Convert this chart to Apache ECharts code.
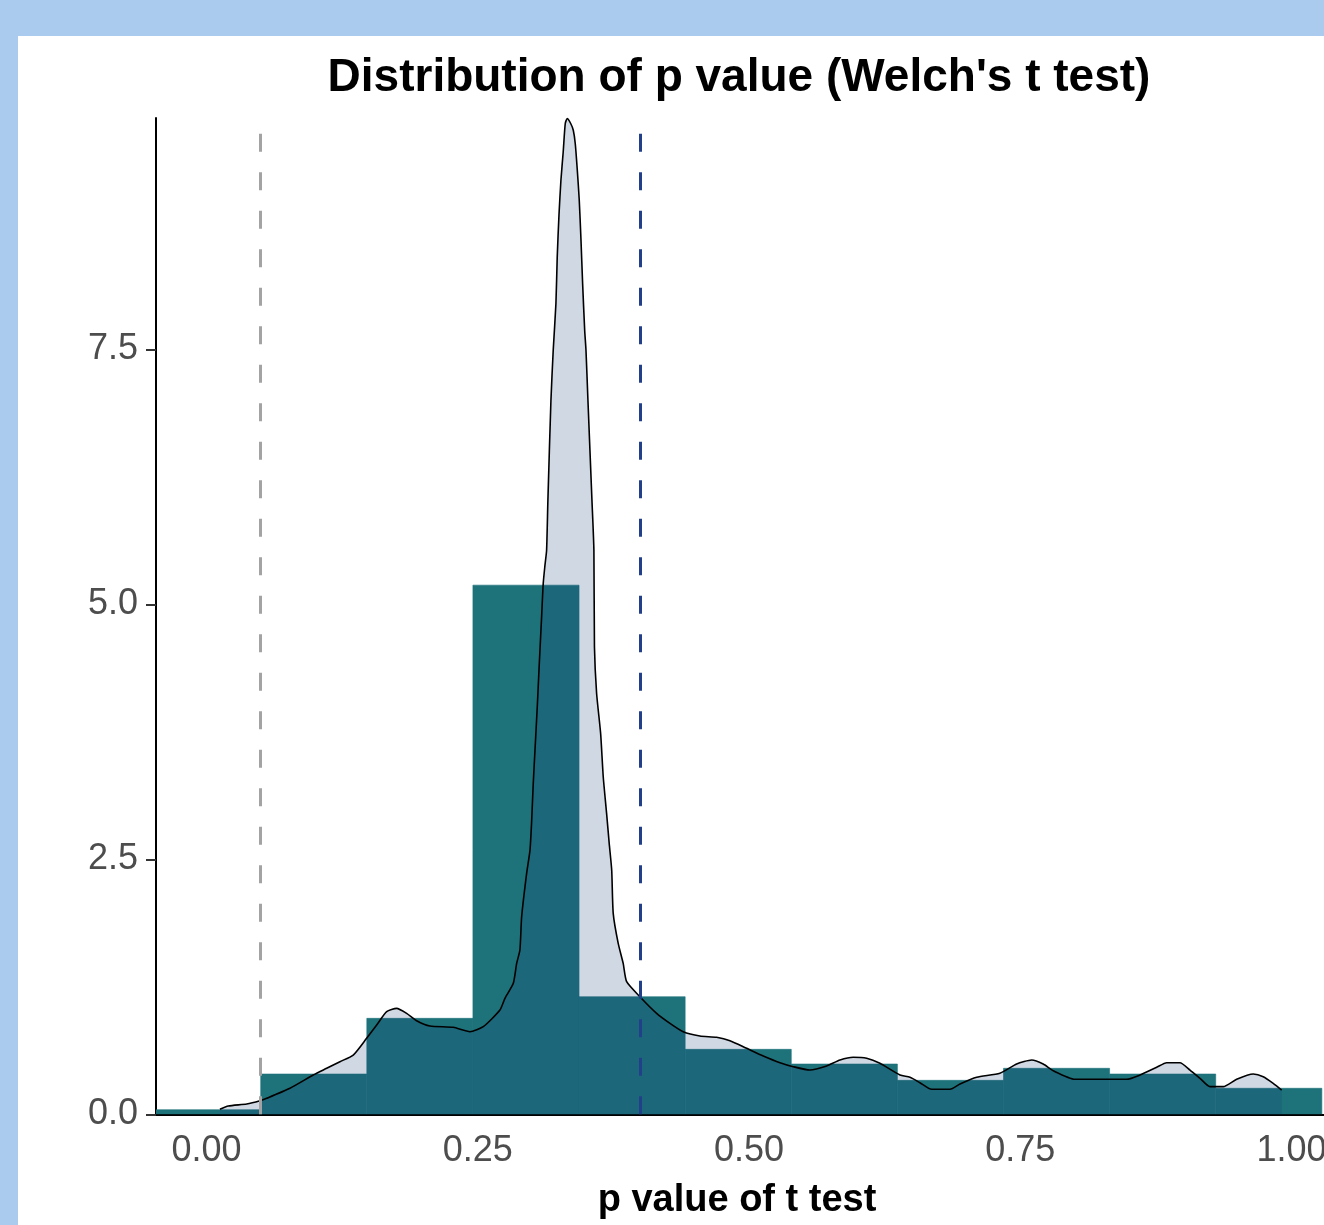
<!DOCTYPE html>
<html>
<head>
<meta charset="utf-8">
<script src="https://cdn.jsdelivr.net/npm/echarts@6/dist/echarts.min.js"></script>
<style>
  html, body { margin: 0; padding: 0; width: 1324px; height: 1225px; background: #aacbee; overflow: hidden; }
  #panel { position: absolute; left: 18px; top: 36px; width: 1306px; height: 1189px; background: #ffffff; }
  #chart { width: 1306px; height: 1189px; }
</style>
</head>
<body>
<div id="panel"><div id="chart"></div></div>
<script>
// ---- data ----
var chartTitle = "Distribution of p value (Welch's t test)";
var xTitle = "p value of t test";

// histogram bins (edges) and density heights
var binEdges = [-0.0478, 0.0500, 0.1478, 0.2456, 0.3434, 0.4412, 0.5390, 0.6368, 0.7346, 0.8324, 0.9302, 1.0280];
var binDensity = [0.045, 0.395, 0.941, 5.189, 1.153, 0.637, 0.493, 0.333, 0.451, 0.395, 0.255];

// kernel density estimate
var densityX = [0.0124, 0.0201, 0.0371, 0.0493, 0.0555, 0.0770, 0.0984, 0.1108, 0.1230, 0.1353,
  0.1476, 0.1569, 0.1661, 0.1753, 0.1845, 0.1937, 0.2060, 0.2275, 0.2429, 0.2551,
  0.2705, 0.2751, 0.2828, 0.2859, 0.2889, 0.2905, 0.2951, 0.2982, 0.2997, 0.3012,
  0.3028, 0.3049, 0.3067, 0.3089, 0.3104, 0.3120, 0.3135, 0.3147, 0.3175, 0.3196,
  0.3221, 0.3233, 0.3249, 0.3267, 0.3288, 0.3307, 0.3325, 0.3357, 0.3381, 0.3399,
  0.3418, 0.3436, 0.3452, 0.3467, 0.3486, 0.3498, 0.3516, 0.3553, 0.3571, 0.3576,
  0.3596, 0.3633, 0.3657, 0.3688, 0.3712, 0.3735, 0.3749, 0.3795, 0.3841, 0.3873,
  0.3995, 0.4149, 0.4272, 0.4394, 0.4548, 0.4702, 0.4825, 0.4979, 0.5132, 0.5286,
  0.5408, 0.5562, 0.5716, 0.5839, 0.5961, 0.6085, 0.6207, 0.6392, 0.6484, 0.6576,
  0.6684, 0.6853, 0.6945, 0.7099, 0.7313, 0.7467, 0.7606, 0.7712, 0.7805, 0.8005,
  0.8235, 0.8481, 0.8604, 0.8758, 0.8850, 0.8972, 0.9065, 0.9157, 0.9249, 0.9371,
  0.9495, 0.9648, 0.9740, 0.9832, 0.9910];
var densityY = [0.049, 0.081, 0.101, 0.133, 0.157, 0.255, 0.385, 0.451, 0.516, 0.581,
  0.745, 0.875, 1.006, 1.039, 0.990, 0.918, 0.866, 0.853, 0.810, 0.859,
  1.023, 1.137, 1.284, 1.480, 1.611, 1.937, 2.363, 2.591, 2.869, 3.245,
  3.571, 3.996, 4.405, 4.878, 5.206, 5.385, 5.532, 6.022, 7.003, 7.493,
  7.951, 8.408, 8.817, 9.160, 9.437, 9.716, 9.765, 9.716, 9.650, 9.520,
  9.258, 8.964, 8.572, 8.147, 7.689, 7.493, 7.003, 6.022, 5.532, 4.584,
  4.127, 3.735, 3.310, 2.951, 2.657, 2.395, 1.971, 1.676, 1.480, 1.300,
  1.153, 0.990, 0.892, 0.810, 0.768, 0.755, 0.722, 0.647, 0.572, 0.506,
  0.467, 0.434, 0.474, 0.532, 0.559, 0.549, 0.500, 0.385, 0.363, 0.310,
  0.245, 0.245, 0.297, 0.363, 0.402, 0.493, 0.532, 0.493, 0.427, 0.343,
  0.343, 0.343, 0.385, 0.461, 0.506, 0.506, 0.434, 0.353, 0.271, 0.271,
  0.343, 0.395, 0.369, 0.304, 0.238];

// reference lines (alpha and mean p value)
var refLines = [0.052, 0.400];

// axes
var xTicks = [0.00, 0.25, 0.50, 0.75, 1.00];
var yTicks = [0.0, 2.5, 5.0, 7.5];
var xRange = [-0.0465, 1.03];
var yRange = [0, 9.77];

// ---- build ----
var histData = binDensity.map(function (h, i) { return [binEdges[i], binEdges[i + 1], h]; });
var densData = densityX.map(function (x, i) { return [x, densityY[i]]; });

var FONT = '"Liberation Sans", Arial, sans-serif';
var chart = echarts.init(document.getElementById('chart'), null, { renderer: 'canvas' });

chart.setOption({
  animation: false,
  backgroundColor: '#ffffff',
  grid: { left: 138, right: 0, top: 82, bottom: 110.7, containLabel: false, outerBoundsMode: 'none' },
  xAxis: {
    type: 'value',
    min: xRange[0], max: xRange[1],
    splitLine: { show: false },
    axisLine: { show: true, onZero: false, lineStyle: { color: '#000000', width: 2 } },
    axisTick: { show: false },
    axisLabel: {
      customValues: xTicks,
      margin: 19,
      color: '#4d4d4d',
      fontSize: 36,
      fontFamily: FONT,
      formatter: function (v) { return v.toFixed(2); }
    }
  },
  yAxis: {
    type: 'value',
    min: yRange[0], max: yRange[1],
    splitLine: { show: false },
    axisLine: { show: true, onZero: false, lineStyle: { color: '#000000', width: 2 } },
    axisTick: { show: true, customValues: yTicks, length: 10, lineStyle: { color: '#333333', width: 2 } },
    axisLabel: {
      customValues: yTicks,
      margin: 18,
      color: '#4d4d4d',
      fontSize: 36,
      fontFamily: FONT,
      formatter: function (v) { return v.toFixed(1); }
    }
  },
  graphic: [
    {
      type: 'text', x: 721, y: 42, z: 100,
      style: { text: chartTitle, fill: '#000000', font: 'bold 46px ' + FONT, align: 'center', verticalAlign: 'middle' }
    },
    {
      type: 'text', x: 719, y: 1165, z: 100,
      style: { text: xTitle, fill: '#000000', font: 'bold 38px ' + FONT, align: 'center', verticalAlign: 'middle' }
    }
  ],
  series: [
    {
      type: 'custom',
      name: 'histogram',
      clip: true,
      z: 2,
      encode: { x: [0, 1], y: 2 },
      data: histData,
      renderItem: function (params, api) {
        var p0 = api.coord([api.value(0), api.value(2)]);
        var p1 = api.coord([api.value(1), 0]);
        return {
          type: 'rect',
          shape: { x: p0[0], y: p0[1], width: p1[0] - p0[0], height: p1[1] - p0[1] },
          style: { fill: '#1e727a', stroke: '#1e727a', lineWidth: 0.6 }
        };
      }
    },
    {
      type: 'line',
      name: 'density',
      z: 3,
      data: densData,
      showSymbol: false,
      symbol: 'none',
      smooth: 0.2,
      lineStyle: { color: '#000000', width: 1.6 },
      areaStyle: { color: 'rgba(20,60,120,0.2)', opacity: 1, origin: 0 },
      markLine: {
        silent: true,
        symbol: ['none', 'none'],
        label: { show: false },
        data: [
          { xAxis: refLines[0], lineStyle: { color: '#a3a3a3', width: 3, type: [18, 20.5] } },
          { xAxis: refLines[1], lineStyle: { color: '#22408a', width: 3, type: [18, 20.5] } }
        ]
      }
    }
  ]
});
</script>
</body>
</html>
